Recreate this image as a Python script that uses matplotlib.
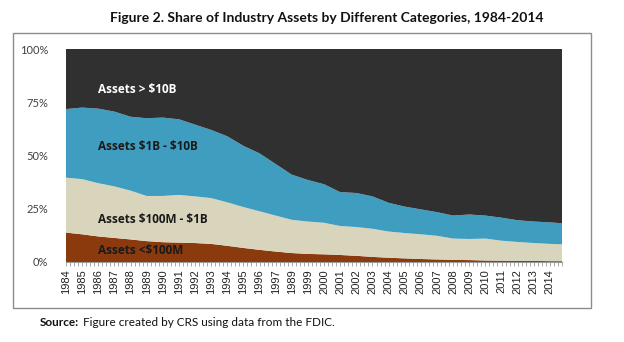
import matplotlib
matplotlib.use("Agg")
import matplotlib.pyplot as plt
from matplotlib.patches import Rectangle
import numpy as np

# Annual readings (Q1 of each year) plus the final quarter of 2014
years = [1984, 1985, 1986, 1987, 1988, 1989, 1990, 1991, 1992, 1993,
         1994, 1995, 1996, 1997, 1998, 1999, 2000, 2001, 2002, 2003,
         2004, 2005, 2006, 2007, 2008, 2009, 2010, 2011, 2012, 2013,
         2014, 2014.75]

# Share of industry assets (%) by size category
share_under_100m = [13.8, 13.0, 12.0, 11.3, 10.6, 9.8, 9.3, 9.1, 8.9, 8.5,
                    7.6, 6.6, 5.7, 4.9, 4.2, 3.8, 3.6, 3.3, 2.9, 2.4,
                    2.0, 1.7, 1.4, 1.2, 1.0, 0.9, 0.7, 0.6, 0.5, 0.5,
                    0.4, 0.4]
share_100m_1b = [25.8, 25.9, 25.0, 24.2, 22.9, 21.2, 21.7, 22.4, 21.9, 21.5,
                 20.4, 19.2, 18.1, 16.9, 15.6, 15.2, 14.8, 13.6, 13.5, 13.2,
                 12.3, 11.9, 11.6, 11.1, 10.0, 9.9, 10.3, 9.4, 8.9, 8.4,
                 8.1, 7.9]
share_1b_10b = [32.2, 33.6, 35.0, 35.1, 34.7, 36.5, 36.8, 35.5, 33.7, 32.0,
                31.0, 28.7, 27.2, 24.2, 21.2, 19.5, 18.1, 15.9, 16.0, 15.2,
                13.5, 12.4, 11.7, 11.1, 10.8, 11.5, 10.8, 10.8, 10.2, 10.1,
                10.1, 9.9]
share_over_10b = [28.2, 27.5, 28.0, 29.4, 31.8, 32.5, 32.2, 33.0, 35.5, 38.0,
                  41.0, 45.5, 49.0, 54.0, 59.0, 61.5, 63.5, 67.2, 67.6, 69.2,
                  72.2, 74.0, 75.3, 76.6, 78.2, 77.7, 78.2, 79.2, 80.4, 81.0,
                  81.4, 81.8]

tick_years = list(range(1984, 2015))
tick_labels = [str(y) for y in tick_years]
tick_labels[14] = "1989"   # label as printed on the original axis

colors = ["#8B3A0E", "#D9D5BC", "#3F9EC0", "#303030"]

W, H = 624, 342
fig = plt.figure(figsize=(W / 100, H / 100), dpi=100)
fig.patch.set_facecolor("white")

# outer frame around the chart
fig.patches.append(Rectangle((13 / W, 1 - 308 / H), (591 - 13) / W, (308 - 33) / H,
                             transform=fig.transFigure, fill=False,
                             edgecolor="#8c8c8c", linewidth=1.0))

ax = fig.add_axes([66 / W, 1 - 262 / H, (562 - 66) / W, (262 - 49) / H])
ax.stackplot(years, share_under_100m, share_100m_1b, share_1b_10b, share_over_10b,
             colors=colors, linewidth=0)

ax.set_xlim(1984, 2014.75)
ax.set_ylim(0, 100)
for s in ["top", "right", "left"]:
    ax.spines[s].set_visible(False)
ax.spines["bottom"].set_color("#9a9a9a")
ax.spines["bottom"].set_linewidth(0.8)

ax.set_yticks([0, 25, 50, 75, 100])
ax.set_yticklabels(["0%", "25%", "50%", "75%", "100%"],
                   fontsize=8, family="Lato", color="#404040")
ax.tick_params(axis="y", length=0, pad=13)

ax.set_xticks(tick_years)
ax.set_xticklabels(tick_labels, rotation=90, fontsize=8, family="Liberation Sans",
                   color="#222222")
ax.set_xticks(np.arange(1984, 2014.8, 0.25), minor=True)
ax.tick_params(axis="x", which="both", length=3, width=0.6, color="#9a9a9a",
               direction="out", pad=2)

label_kw = dict(fontsize=8.5, family="Open Sans", fontweight="bold",
                transform=ax.transData, va="center", ha="left")
ax.text(1986.0, 81, "Assets > \\$10B", color="white", **label_kw)
ax.text(1986.0, 54, "Assets \\$1B - \\$10B", color="#1a1a1a", **label_kw)
ax.text(1986.0, 20, "Assets \\$100M - \\$1B", color="#1a1a1a", **label_kw)
ax.text(1986.0, 5.5, "Assets <\\$100M", color="#1a1a1a", **label_kw)

fig.text(327 / W, 1 - 18 / H,
         "Figure 2. Share of Industry Assets by Different Categories, 1984-2014",
         ha="center", va="center", fontsize=10, fontweight="bold", family="Lato",
         color="#111111")

src = fig.text(40 / W, 1 - 322 / H, "Source:", ha="left", va="center", fontsize=8.5,
               fontweight="bold", family="Lato", color="#111111")
fig.canvas.draw()
src_end = src.get_window_extent().x1
fig.text((src_end + 3.5) / W, 1 - 322 / H,
         "Figure created by CRS using data from the FDIC.",
         ha="left", va="center", fontsize=8.5, family="Lato", color="#111111")

fig.savefig("out.png", dpi=100, facecolor="white")
